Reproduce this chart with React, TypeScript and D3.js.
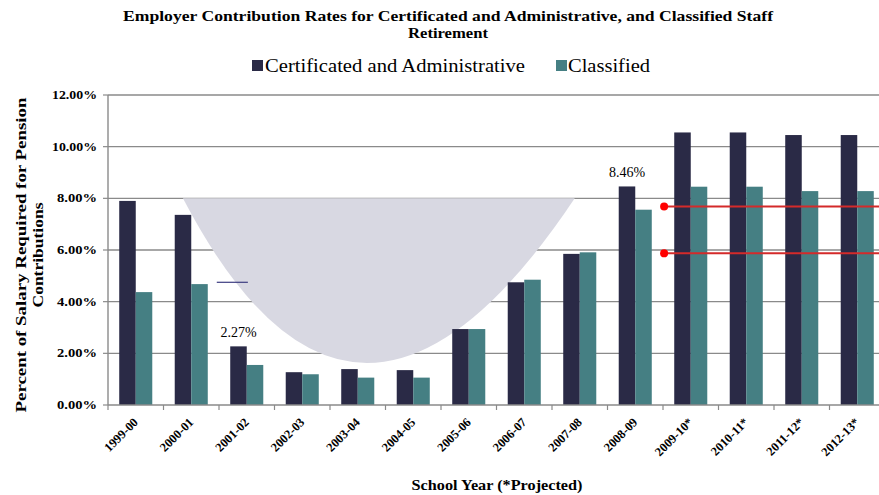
import React from 'react'
import * as d3 from 'd3'

const years = ['1999-00', '2000-01', '2001-02', '2002-03', '2003-04', '2004-05', '2005-06',
  '2006-07', '2007-08', '2008-09', '2009-10*', '2010-11*', '2011-12*', '2012-13*']
const certificated = [7.9, 7.36, 2.27, 1.27, 1.39, 1.35, 2.94, 4.75, 5.85, 8.46, 10.55, 10.55, 10.45, 10.45]
const classified = [4.37, 4.68, 1.55, 1.19, 1.06, 1.06, 2.94, 4.85, 5.91, 7.56, 8.45, 8.45, 8.28, 8.28]
const yTicks = [0, 2, 4, 6, 8, 10, 12]
const series = ['Certificated and Administrative', 'Classified']
const colors = ['#2a2a46', '#457f83']
// labelled bars: [index, value]
const callouts = [[2, 2.27], [9, 8.46]]
// red reference lines (left end at a category boundary)
const redLines = [7.68, 5.87]

const W = 879
const H = 495
const serif = '"Liberation Serif", "Times New Roman", Times, serif'

export default function App() {
  const x = d3.scaleBand().domain(years).range([108, 885]).padding(0)
  const xi = d3.scaleLinear().domain([0, years.length]).range([108, 885])
  const inner = d3.scaleBand().domain(series).range([0, x.bandwidth()]).paddingOuter(0.68)
  const y = d3.scaleLinear().domain([0, 12]).range([405, 95])

  const blob = d3.path()
  blob.moveTo(xi(1.35), y(8))
  blob.quadraticCurveTo(xi(4.45), y(-4.74), xi(8.41), y(8))
  blob.closePath()

  return (
    <svg width={W} height={H} style={{ position: 'absolute', left: 0, top: 0, background: '#fff' }}
      fontFamily={serif}>
      <text x={448} y={21} textAnchor="middle" fontWeight="bold" fontSize={15}
        textLength={650} lengthAdjust="spacingAndGlyphs">
        Employer  Contribution Rates for Certificated and Administrative, and Classified Staff
      </text>
      <text x={448} y={38} textAnchor="middle" fontWeight="bold" fontSize={15}
        textLength={80} lengthAdjust="spacingAndGlyphs">Retirement</text>

      {series.map((s, i) => (
        <g key={s}>
          <rect x={i === 0 ? 252 : 556} y={60} width={11} height={11} fill={colors[i]} />
          <text x={i === 0 ? 265 : 568} y={72} fontSize={19} fontFamily={serif}
            textLength={i === 0 ? 260 : 82} lengthAdjust="spacingAndGlyphs">{s}</text>
        </g>
      ))}

      {yTicks.map(t => (
        <g key={t}>
          {t > 0 && <line x1={108} x2={W} y1={y(t)} y2={y(t)} stroke="#8a8a8a" strokeWidth={1.4} />}
          <line x1={103} x2={108} y1={y(t)} y2={y(t)} stroke="#8a8a8a" strokeWidth={1.2} />
          <text x={97} y={y(t) + 4} textAnchor="end" fontSize={12} fontWeight="bold"
            textLength={t >= 10 ? 45 : 40} lengthAdjust="spacingAndGlyphs">
            {t.toFixed(2) + '%'}
          </text>
        </g>
      ))}

      <path d={blob.toString()} fill="#d8d8e2" />
      <line x1={xi(1.96)} x2={xi(2.52)} y1={y(4.75)} y2={y(4.75)} stroke="#3c3c80" strokeWidth={1.2} />

      {years.map((yr, i) => (
        <g key={yr} transform={`translate(${x(yr)},0)`}>
          {[certificated[i], classified[i]].map((v, j) => (
            <rect key={j} x={inner(series[j])} y={y(v)} width={inner.bandwidth()} height={y(0) - y(v)}
              fill={colors[j]} />
          ))}
        </g>
      ))}

      <line x1={108} x2={108} y1={y(12)} y2={y(0)} stroke="#8a8a8a" strokeWidth={1.4} />
      <line x1={108} x2={W} y1={y(0)} y2={y(0)} stroke="#8a8a8a" strokeWidth={1.4} />
      {d3.range(years.length + 1).map(i => (
        <line key={i} x1={xi(i)} x2={xi(i)} y1={y(0)} y2={y(0) + 5} stroke="#8a8a8a" strokeWidth={1.2} />
      ))}

      {years.map(yr => (
        <text key={yr} transform={`translate(${x(yr)! + x.bandwidth() / 2 + 3},423) rotate(-45)`}
          textAnchor="end" fontSize={12.5} fontWeight="bold">{yr}</text>
      ))}

      {callouts.map(([i, v]) => (
        <text key={i} x={x(years[i])! + inner(series[0])! + inner.bandwidth() / 2} y={y(v) - 9}
          textAnchor="middle" fontSize={14} fontFamily={serif}>{v.toFixed(2) + '%'}</text>
      ))}

      {redLines.map(v => (
        <g key={v}>
          <line x1={xi(10.02)} x2={W} y1={y(v)} y2={y(v)} stroke="#d42a2a" strokeWidth={2} />
          <circle cx={xi(10.02)} cy={y(v)} r={4} fill="#ff0000" />
        </g>
      ))}

      <text x={497} y={490} textAnchor="middle" fontSize={14.5} fontWeight="bold"
        textLength={171} lengthAdjust="spacingAndGlyphs">School Year  (*Projected)</text>

      <g transform="translate(0,255) rotate(-90)" fontWeight="bold" fontSize={15} textAnchor="middle">
        <text x={0} y={26} textLength={315} lengthAdjust="spacingAndGlyphs">
          Percent of Salary Required for Pension
        </text>
        <text x={0} y={43} textLength={105} lengthAdjust="spacingAndGlyphs">Contributions</text>
      </g>
    </svg>
  )
}
